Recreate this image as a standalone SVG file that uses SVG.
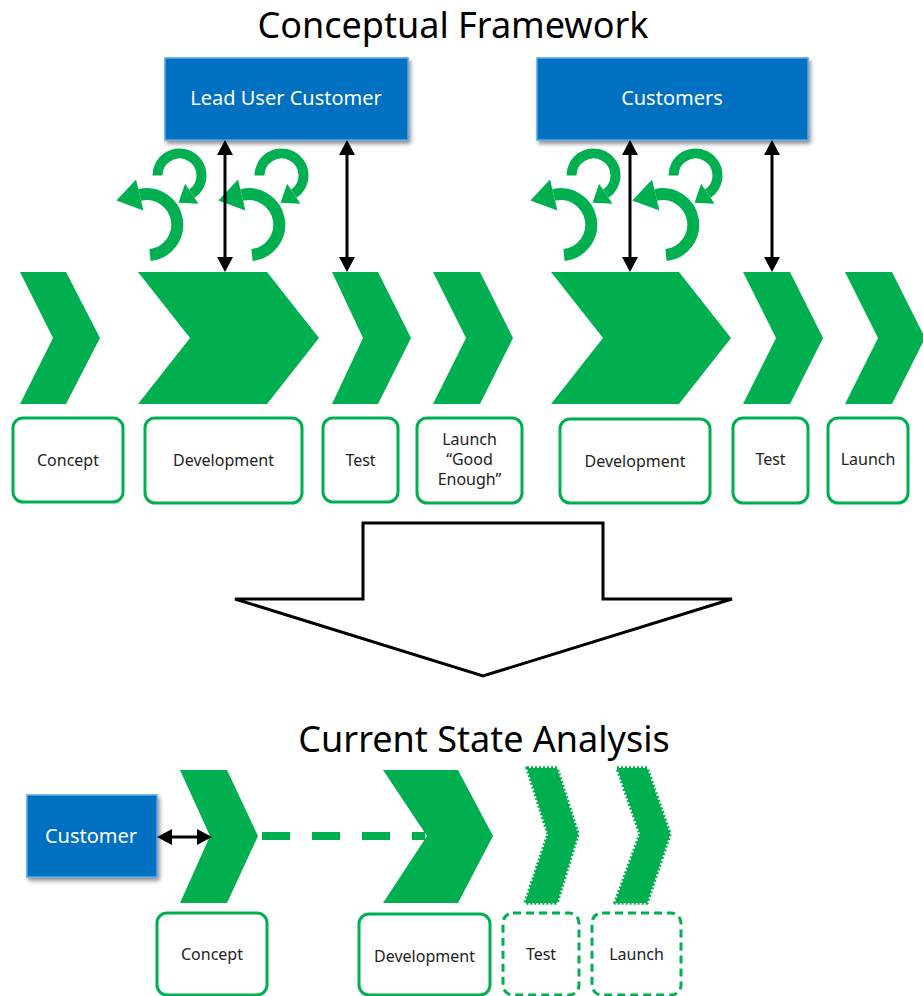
<svg xmlns="http://www.w3.org/2000/svg" width="923" height="996" viewBox="0 0 923 996">
  <style>
    .title { font-family: "Noto Sans", "Open Sans", sans-serif; font-size: 36px; fill: #000; text-anchor: middle; }
    .who { fill: #0070C0; stroke: #5AA6E6; stroke-width: 1.5; }
    .whoText { font-family: "Noto Sans", "Open Sans", sans-serif; font-size: 20px; fill: #fff; text-anchor: middle; }
    .step { fill: #00B050; }
    .stepRough { fill: #00B050; stroke: #00B050; stroke-width: 3.5; stroke-dasharray: 2 2; stroke-linejoin: round; }
    .label { fill: #fff; stroke: #00B050; stroke-width: 3; }
    .labelDashed { fill: #fff; stroke: #00B050; stroke-width: 3; stroke-dasharray: 8 5; }
    .labelText { font-family: "Noto Sans", "Open Sans", sans-serif; font-size: 16px; fill: #222; text-anchor: middle; }
    .link { stroke: #000; stroke-width: 3; fill: none; }
    .loopSmall { stroke: #00B050; stroke-width: 10; fill: none; marker-end: url(#loopHeadSmall); }
    .loopLarge { stroke: #00B050; stroke-width: 12; fill: none; marker-end: url(#loopHeadLarge); }
  </style>
  <defs>
    <filter id="shadow" x="-10%" y="-10%" width="125%" height="135%">
      <feDropShadow dx="2" dy="3" stdDeviation="2" flood-color="#000" flood-opacity="0.45"/>
    </filter>
    <marker id="blackHead" markerUnits="userSpaceOnUse" markerWidth="18" markerHeight="18" refX="4" refY="8" orient="auto-start-reverse" overflow="visible">
      <path d="M0,0 L15,8 L0,16 z" fill="#000"/>
    </marker>
    <marker id="loopHeadSmall" markerUnits="userSpaceOnUse" markerWidth="20" markerHeight="26" refX="0" refY="0" orient="auto" overflow="visible">
      <path d="M0,-12 L16,0 L0,12 z" fill="#00B050"/>
    </marker>
    <marker id="loopHeadLarge" markerUnits="userSpaceOnUse" markerWidth="28" markerHeight="34" refX="0" refY="0" orient="auto" overflow="visible">
      <path d="M0,-16 L24,0 L0,16 z" fill="#00B050"/>
    </marker>
    <!-- one iteration loop: small arc above a large arc -->
    <g id="loopPair">
      <path class="loopSmall" d="M157.5,175.5 A22,22 0 1 1 191.8,193.7"/>
      <path class="loopLarge" d="M150,255 A30.5,30.5 0 1 0 139.7,195"/>
    </g>
  </defs>

  <!-- headings -->
  <text class="title" x="453" y="38">Conceptual Framework</text>
  <text class="title" x="484" y="752">Current State Analysis</text>

  <!-- customer boxes -->
  <g id="lead-user-customer">
    <rect class="who" x="165" y="58" width="243" height="82" filter="url(#shadow)"/>
    <text class="whoText" x="286" y="105">Lead User Customer</text>
  </g>
  <g id="customers">
    <rect class="who" x="537" y="58" width="271" height="82" filter="url(#shadow)"/>
    <text class="whoText" x="672" y="105">Customers</text>
  </g>
  <g id="customer">
    <rect class="who" x="27" y="795" width="130" height="82" filter="url(#shadow)"/>
    <text class="whoText" x="91" y="843">Customer</text>
  </g>

  <!-- iteration loops -->
  <g id="loops">
    <use href="#loopPair"/>
    <use href="#loopPair" x="102"/>
    <use href="#loopPair" x="414"/>
    <use href="#loopPair" x="516"/>
  </g>

  <!-- process chevrons, target flow -->
  <g id="step-concept"><polygon class="step" points="20,272 66,272 100,338 66,404 20,404 53,338"/></g>
  <g id="step-development-1"><polygon class="step" points="138,272 267,272 319,338 267,404 138,404 190,338"/></g>
  <g id="step-test-1"><polygon class="step" points="332,272 378,272 411,338 378,404 332,404 363,338"/></g>
  <g id="step-launch-1"><polygon class="step" points="433,272 480,272 513,338 480,404 433,404 466,338"/></g>
  <g id="step-development-2"><polygon class="step" points="551,272 679,272 731,338 679,404 551,404 603,338"/></g>
  <g id="step-test-2"><polygon class="step" points="743,272 790,272 823,338 790,404 743,404 776,338"/></g>
  <g id="step-launch-2"><polygon class="step" points="845,272 892,272 925,338 892,404 845,404 878,338"/></g>

  <!-- labels, target flow -->
  <g id="label-concept">
    <rect class="label" x="13" y="418" width="110" height="84" rx="10"/>
    <text class="labelText" x="68" y="466">Concept</text>
  </g>
  <g id="label-development-1">
    <rect class="label" x="145" y="418" width="157" height="85" rx="10"/>
    <text class="labelText" x="223.5" y="466">Development</text>
  </g>
  <g id="label-test-1">
    <rect class="label" x="323" y="418" width="75" height="84" rx="10"/>
    <text class="labelText" x="360.5" y="466">Test</text>
  </g>
  <g id="label-launch-1">
    <rect class="label" x="417" y="418" width="105" height="85" rx="10"/>
    <text class="labelText" x="469.5" y="445">Launch</text>
    <text class="labelText" x="469.5" y="465">“Good</text>
    <text class="labelText" x="469.5" y="485">Enough”</text>
  </g>
  <g id="label-development-2">
    <rect class="label" x="560" y="419" width="150" height="84" rx="10"/>
    <text class="labelText" x="635" y="467">Development</text>
  </g>
  <g id="label-test-2">
    <rect class="label" x="733" y="418" width="75" height="85" rx="10"/>
    <text class="labelText" x="770.5" y="465">Test</text>
  </g>
  <g id="label-launch-2">
    <rect class="label" x="828" y="418" width="80" height="85" rx="10"/>
    <text class="labelText" x="868" y="465">Launch</text>
  </g>

  <!-- transition arrow -->
  <g id="transition">
    <polygon points="363,523 603,523 603,599 732,599 483,676 235,599 363,599" fill="#fff" stroke="#000" stroke-width="3" stroke-linejoin="miter"/>
  </g>

  <!-- process chevrons, current flow -->
  <g id="current-concept"><polygon class="step" points="180,770 227,770 258,836 227,903 180,903 210,836"/></g>
  <g id="current-development"><polygon class="step" points="383,770 458,770 493,836 458,903 383,903 427,836"/></g>
  <g id="current-test"><polygon class="stepRough" points="527,768 557,768 578,834 557,903 525,903 548,834"/></g>
  <g id="current-launch"><polygon class="stepRough" points="617,768 647,768 670,834 647,903 615,903 640,834"/></g>

  <!-- labels, current flow -->
  <g id="current-label-concept">
    <rect class="label" x="157" y="913" width="110" height="82" rx="10"/>
    <text class="labelText" x="212" y="960">Concept</text>
  </g>
  <g id="current-label-development">
    <rect class="label" x="359" y="914" width="131" height="81" rx="10"/>
    <text class="labelText" x="424.5" y="962">Development</text>
  </g>
  <g id="current-label-test">
    <rect class="labelDashed" x="503" y="913" width="76" height="82" rx="10"/>
    <text class="labelText" x="541" y="960">Test</text>
  </g>
  <g id="current-label-launch">
    <rect class="labelDashed" x="592" y="913" width="89" height="82" rx="10"/>
    <text class="labelText" x="636.5" y="960">Launch</text>
  </g>

  <!-- connectors -->
  <g id="connectors">
    <line class="link" x1="225" y1="151" x2="225" y2="261" marker-start="url(#blackHead)" marker-end="url(#blackHead)"/>
    <line class="link" x1="347" y1="151" x2="347" y2="261" marker-start="url(#blackHead)" marker-end="url(#blackHead)"/>
    <line class="link" x1="630" y1="151" x2="630" y2="261" marker-start="url(#blackHead)" marker-end="url(#blackHead)"/>
    <line class="link" x1="772" y1="151" x2="772" y2="261" marker-start="url(#blackHead)" marker-end="url(#blackHead)"/>
    <line class="link" x1="168" y1="837" x2="201" y2="837" marker-start="url(#blackHead)" marker-end="url(#blackHead)"/>
    <line x1="262" y1="836" x2="425" y2="836" stroke="#00B050" stroke-width="8" stroke-dasharray="28 22"/>
  </g>
</svg>
